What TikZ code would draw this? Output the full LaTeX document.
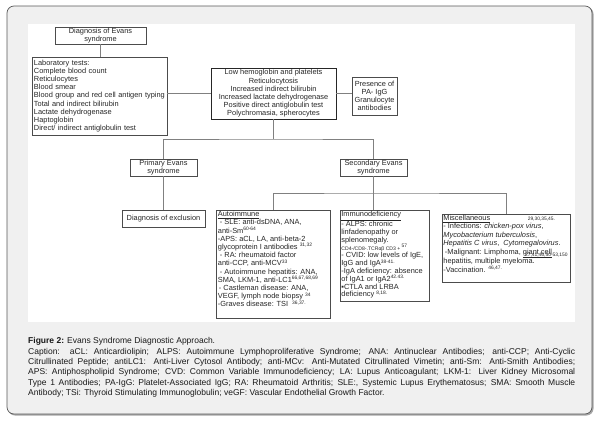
\documentclass[tikz,border=0pt]{standalone}
\usepackage{fontspec}
\setmainfont{Liberation Sans}
\usetikzlibrary{shadows}
\newcommand{\refsz}{\fontsize{4.9}{5}\selectfont}
\newcommand{\rsup}[1]{\raisebox{2.6pt}{\refsz #1}}
\begin{document}
\begin{tikzpicture}[x=1pt,y=-1pt,
  box/.style={draw=black!70, line width=0.6pt, fill=white, inner sep=0pt,
    drop shadow={shadow xshift=0.8pt, shadow yshift=-0.8pt, opacity=0.25, fill=black}},
  txt/.style={font=\fontsize{7.4}{8.2}\selectfont, text=black!85, inner sep=0pt},
  conn/.style={draw=black!50, line width=0.6pt},
  captxt/.style={font=\fontsize{8.5}{10}\selectfont, text=black!90, inner sep=0pt, anchor=west},
]
\useasboundingbox (0,0) rectangle (603,421);
% frame
\fill[black!35, rounded corners=7pt] (8,7) rectangle (593.5,415.5);
\filldraw[fill=black!6, draw=black!65, line width=0.7pt, rounded corners=7pt] (7,6) rectangle (592,414);
\fill[white] (28,24) rectangle (575,322);

% boxes
\node[box, txt, minimum width=91pt, minimum height=17pt, align=center] (diag) at (100.5,35.5) {Diagnosis of Evans\\syndrome};
\node[box, txt, minimum width=135pt, minimum height=78pt, text width=131pt, align=left] (lab) at (99.5,96) {Laboratory tests:\\Complete blood count\\Reticulocytes\\Blood smear\\Blood group and red cell antigen typing\\Total and indirect bilirubin\\Lactate dehydrogenase\\Haptoglobin\\Direct/ indirect antiglobulin test};
\node[box, txt, draw=black!85, line width=0.9pt, minimum width=125pt, minimum height=51pt, align=center] (central) at (273.5,93.5) {Low hemoglobin and platelets\\Reticulocytosis\\Increased indirect bilirubin\\Increased lactate dehydrogenase\\Positive direct antiglobulin test\\Polychromasia, spherocytes};
\node[box, txt, minimum width=45pt, minimum height=38pt, align=center] (pres) at (374.5,96) {Presence of\\PA- IgG\\Granulocyte\\antibodies};
\node[box, txt, minimum width=67pt, minimum height=17pt, align=center] (prim) at (163.5,167.5) {Primary Evans\\syndrome};
\node[box, txt, minimum width=67pt, minimum height=17pt, align=center] (sec) at (373.5,167.5) {Secondary Evans\\syndrome};
\node[box, txt, minimum width=83pt, minimum height=17pt, align=center] (excl) at (163.5,218.5) {Diagnosis of exclusion};
\node[box, minimum width=114pt, minimum height=108pt] (auto) at (273,264) {};
\node[box, minimum width=89pt, minimum height=91pt] (immuno) at (384.5,255.5) {};
\node[box, minimum width=128pt, minimum height=68pt] (misc) at (506,248) {};

\node[txt, anchor=north west, align=left] (autotext) at ([xshift=2pt,yshift=-1.5pt]auto.north west) {\underline{Autoimmune}\\
\hspace*{2pt}- SLE: anti-dsDNA, ANA,\\
anti-Sm\rsup{60-64}\\
-APS: aCL, LA, anti-beta-2\\
glycoprotein I antibodies \rsup{31,32}\\
\hspace*{2pt}- RA: rheumatoid factor\\
anti-CCP, anti-MCV\rsup{33}\\
\hspace*{2pt}- Autoimmune hepatitis: ANA,\\
SMA, LKM-1, anti-LC1\rsup{66,67,68,69}\\
\hspace*{1pt}- Castleman disease: ANA,\\
VEGF, lymph node biopsy \rsup{34}\\
-Graves disease: TSI \ \rsup{36,37.}};

\node[txt, font=\fontsize{7.4}{7.8}\selectfont, anchor=north west, align=left] (immunotext) at ([xshift=1.5pt,yshift=-1.5pt]immuno.north west) {\underline{Immunodeficiency}\\
- ALPS: chronic\\
linfadenopathy or\\
splenomegaly.\\
{\fontsize{5.1}{6}\selectfont CD4-/CD8-.TCRαβ CD3 +}\,\rsup{57}\\
- CVID: low levels of IgE,\\
IgG and IgA\rsup{38-41.}\\
-IgA deficiency: absence\\
of IgA1 or IgA2\rsup{42.43.}\\
▪CTLA and LRBA\\
deficiency \rsup{8,18.}};

\node[txt, font=\fontsize{7.4}{8.4}\selectfont, anchor=north west, align=left] (misctext) at ([xshift=1.5pt,yshift=-1.2pt]misc.north west) {\underline{Miscellaneous}\hspace{37.5pt}\raisebox{-0.5pt}{\refsz 29,30,35,45.}\\
- Infections: \textit{chicken-pox virus},\\
\textit{Mycobacterium tuberculosis},\\
\textit{Hepatitis C virus},\ \ \textit{Cytomegalovirus}.\\
\hspace*{1.5pt}-Malignant: Limphoma, \underline{giant cell}\rlap{\hspace{-27pt}\raisebox{-2pt}{\refsz 27,41,46,50-53,150}}\\
hepatitis, multiple myeloma.\\
-Vaccination. \rsup{46,47.}};

% connectors
\draw[conn] (diag.south) -- (diag.south |- lab.north);
\draw[conn] (lab.east |- central.west) -- (central.west);
\draw[conn] (central.east) -- (central.east -| pres.west);
\coordinate (j1) at (273.5,139);
\draw[conn] (central.south) -- (j1);
\draw[conn] (prim.north) |- (j1) -| (sec.north);
\draw[conn] (prim.south) -- (excl.north);
\coordinate (j2) at (373.5,193);
\draw[conn] (sec.south) -- (sec.south |- immuno.north);
\draw[conn] (auto.north) |- (j2) -| (misc.north);

% caption
\node[captxt] (cap0) at (28,341.5) {\textbf{Figure 2:} Evans Syndrome Diagnostic Approach.};
\node[captxt] (cap1) at (28,352) {\makebox[547pt][s]{Caption: aCL: Anticardiolipin; ALPS: Autoimmune Lymphoproliferative Syndrome; ANA: Antinuclear Antibodies; anti-CCP; Anti-Cyclic}};
\node[captxt] (cap2) at (28,362.3) {\makebox[547pt][s]{Citrullinated Peptide; antiLC1: Anti-Liver Cytosol Antibody; anti-MCv: Anti-Mutated Citrullinated Vimetin; anti-Sm: Anti-Smith Antibodies;}};
\node[captxt] (cap3) at (28,372.6) {\makebox[547pt][s]{APS: Antiphospholipid Syndrome; CVD: Common Variable Immunodeficiency; LA: Lupus Anticoagulant; LKM-1: Liver Kidney Microsomal}};
\node[captxt] (cap4) at (28,382.9) {\makebox[547pt][s]{Type 1 Antibodies; PA-IgG: Platelet-Associated IgG; RA: Rheumatoid Arthritis; SLE:, Systemic Lupus Erythematosus; SMA: Smooth Muscle}};
\node[captxt] (cap5) at (28,393.2) {Antibody; TSi: Thyroid Stimulating Immunoglobulin; veGF: Vascular Endothelial Growth Factor.};
\end{tikzpicture}
\end{document}
